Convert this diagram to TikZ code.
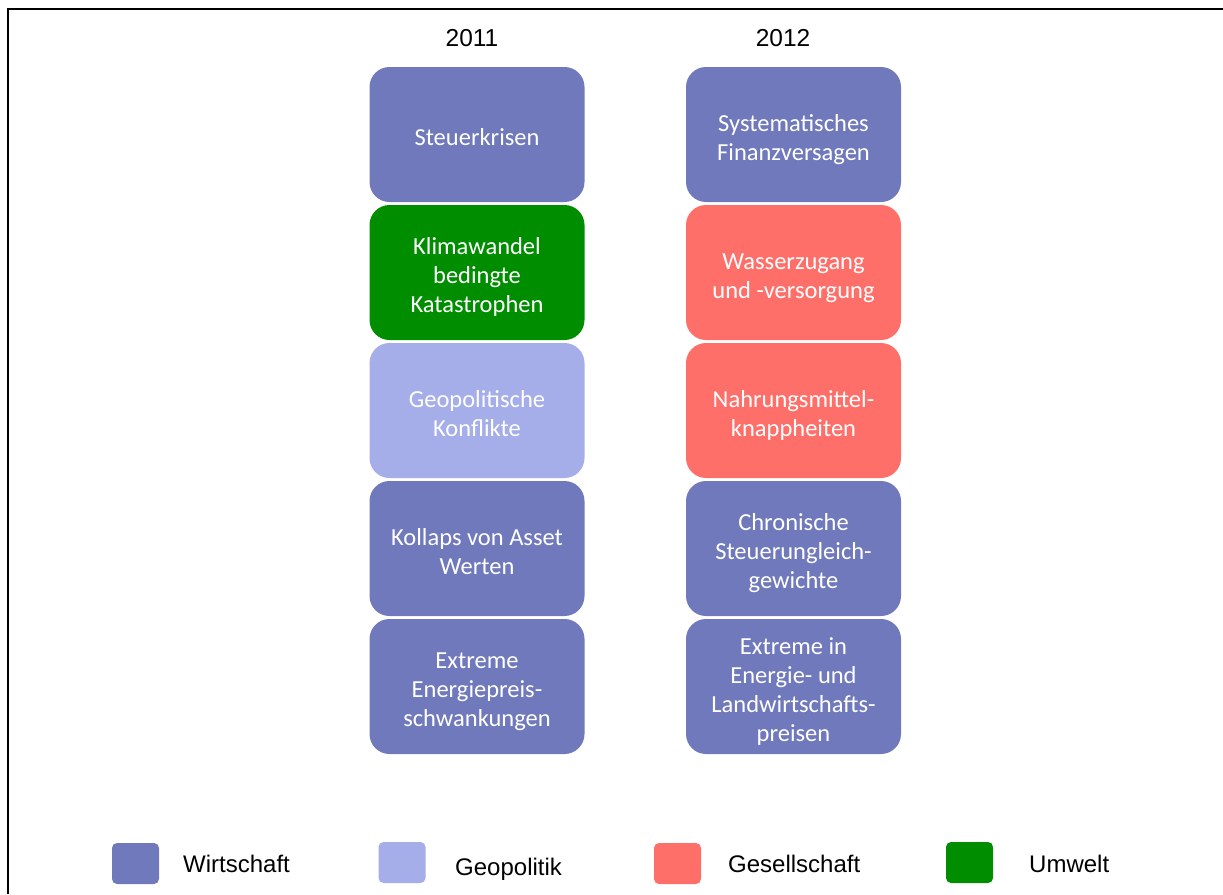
\documentclass[tikz,border=0pt]{standalone}
\usepackage{fontspec}
\setmainfont{Carlito}
\newfontfamily\arialfont{Liberation Sans}
\definecolor{wirt}{RGB}{112,121,187}
\definecolor{geo}{RGB}{165,174,232}
\definecolor{ges}{RGB}{255,111,105}
\definecolor{umw}{RGB}{0,142,0}
\newcommand\boxtxt[1]{\raisebox{-5.5pt}[\height][\depth]{\begin{tabular}{@{}c@{}}#1\end{tabular}}}
\tikzset{
  riskbox/.style={rounded corners=20pt, minimum width=215pt, minimum height=135pt,
    inner sep=2pt, align=center, text=white, font=\fontsize{24.5}{29}\selectfont},
  legbox/.style={rounded corners=5pt, minimum width=47pt, minimum height=41pt, inner sep=0pt},
  legtext/.style={anchor=base west, font=\arialfont\fontsize{24}{28}\selectfont, inner sep=0pt},
  yeartext/.style={font=\arialfont\fontsize{24.5}{28}\selectfont, inner sep=0pt}
}
\begin{document}
\begin{tikzpicture}[x=1pt,y=-1pt]
\useasboundingbox (0,0) rectangle (1223,894);
\draw[line width=2pt] (8,894) -- (8,9) -- (1223,9);
\node[yeartext] (y11) at (472,38) {2011};
\node[yeartext] (y12) at (783,38) {2012};
% 2011
\node[riskbox, fill=wirt] (a1) at (477,134.5) {\boxtxt{Steuerkrisen}};
\node[riskbox, fill=umw] (a2) at (477,272.5) {\boxtxt{Klimawandel\\bedingte\\Katastrophen}};
\node[riskbox, fill=geo] (a3) at (477,410.5) {\boxtxt{Geopolitische\\Konflikte}};
\node[riskbox, fill=wirt] (a4) at (477,548.5) {\boxtxt{Kollaps von Asset\\Werten}};
\node[riskbox, fill=wirt] (a5) at (477,686.5) {\boxtxt{Extreme\\Energiepreis-\\schwankungen}};
% 2012
\node[riskbox, fill=wirt] (b1) at (793.5,134.5) {\boxtxt{Systematisches\\Finanzversagen}};
\node[riskbox, fill=ges] (b2) at (793.5,272.5) {\boxtxt{Wasserzugang\\und -versorgung}};
\node[riskbox, fill=ges] (b3) at (793.5,410.5) {\boxtxt{Nahrungsmittel-\\knappheiten}};
\node[riskbox, fill=wirt] (b4) at (793.5,548.5) {\boxtxt{Chronische\\Steuerungleich-\\gewichte}};
\node[riskbox, fill=wirt] (b5) at (793.5,686.5) {\boxtxt{Extreme in\\Energie- und\\Landwirtschafts-\\preisen}};
% legend
\node[legbox, fill=wirt] (l1) at (135.5,863.5) {};
\node[legtext] (t1) at (183,872) {Wirtschaft};
\node[legbox, fill=geo] (l2) at (402,862.5) {};
\node[legtext] (t2) at (455,875) {Geopolitik};
\node[legbox, fill=ges] (l3) at (677.5,863.5) {};
\node[legtext] (t3) at (728,872) {Gesellschaft};
\node[legbox, fill=umw] (l4) at (969.5,862.5) {};
\node[legtext] (t4) at (1029,872) {Umwelt};
\end{tikzpicture}
\end{document}
